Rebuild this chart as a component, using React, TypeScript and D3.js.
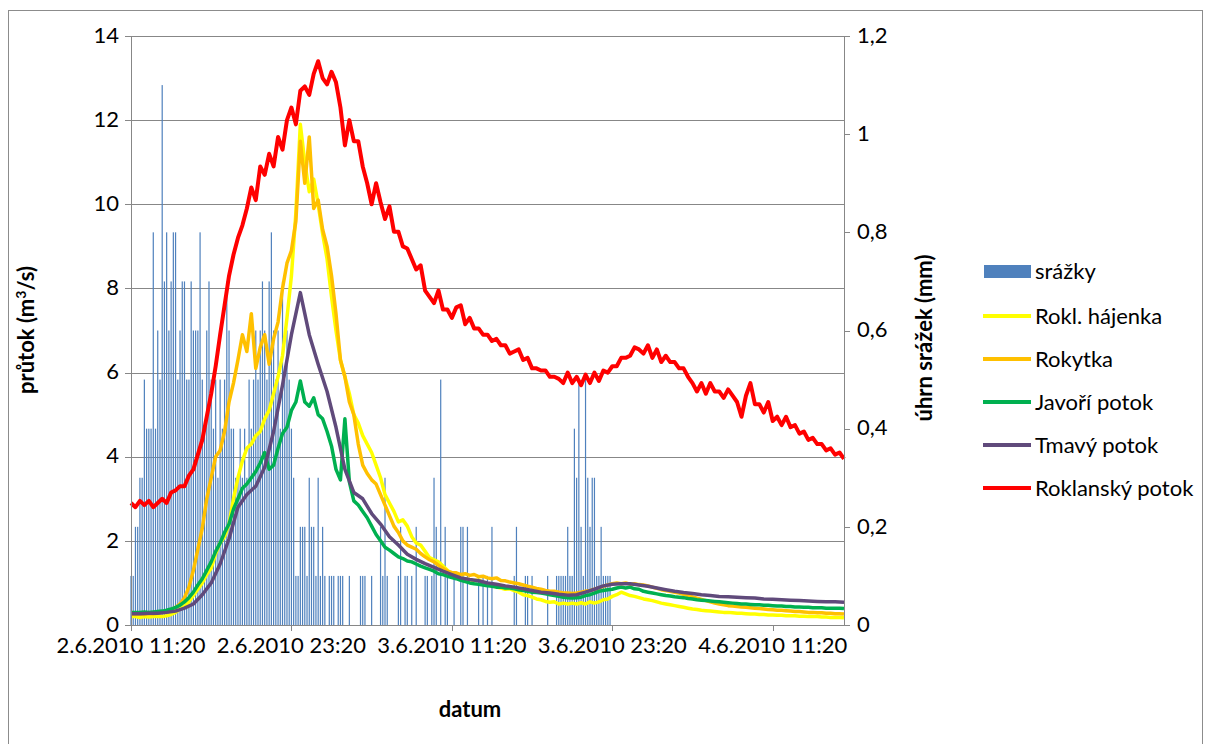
import React from "react";
import * as d3 from "d3";

// ---- DATA ----
// time axis labels (hours from 2.6.2010 11:20)
const tickHours = [0, 12, 24, 36, 48];
const tickLabels = ["2.6.2010 11:20", "2.6.2010 23:20", "3.6.2010 11:20", "3.6.2010 23:20", "4.6.2010 11:20"];
const leftTicks = [0, 2, 4, 6, 8, 10, 12, 14];
const rightTicks = [0, 0.2, 0.4, 0.6, 0.8, 1, 1.2];

// precipitation, 10-minute bins (mm)
const rain = [
  0.1, 0.1, 0.2, 0.2, 0.3, 0.3, 0.5, 0.4, 0.4, 0.4,
  0.8, 0.4, 0.6, 0.5, 1.1, 0.7, 0.8, 0.6, 0.7, 0.8,
  0.8, 0.5, 0.6, 0.7, 0.7, 0.5, 0.5, 0.7, 0.6, 0.6,
  0.6, 0.8, 0.5, 0.4, 0.6, 0.7, 0.5, 0.4, 0.5, 0.3,
  0.5, 0.4, 0.5, 0.7, 0.6, 0.4, 0.4, 0.3, 0.3, 0.4,
  0.3, 0.4, 0.3, 0.5, 0.4, 0.5, 0.6, 0.5, 0.6, 0.7,
  0.6, 0.5, 0.7, 0.8, 0.6, 0.5, 0.6, 0.4, 0.7, 0.5,
  0.6, 0.5, 0.4, 0.3, 0.1, 0.1, 0.2, 0.2, 0.2, 0.1,
  0.3, 0.2, 0.2, 0.1, 0.3, 0.1, 0.2, 0.1, 0, 0.1,
  0.1, 0.1, 0, 0.1, 0.1, 0.1, 0, 0, 0.1, 0,
  0, 0, 0, 0.1, 0.1, 0.1, 0, 0, 0.1, 0,
  0, 0, 0.2, 0.1, 0.3, 0.1, 0, 0, 0, 0,
  0.1, 0.2, 0, 0.1, 0.1, 0, 0.1, 0, 0.2, 0,
  0, 0, 0.1, 0.1, 0, 0.1, 0.3, 0.2, 0, 0.5,
  0, 0.2, 0.1, 0, 0, 0.1, 0, 0, 0.2, 0.2,
  0, 0.2, 0, 0, 0, 0, 0.1, 0, 0.1, 0,
  0.1, 0, 0.2, 0, 0, 0, 0, 0, 0, 0,
  0, 0, 0.1, 0.2, 0, 0, 0, 0.1, 0.1, 0,
  0.1, 0, 0, 0, 0, 0, 0, 0.1, 0, 0,
  0, 0.1, 0.1, 0.1, 0.1, 0.1, 0.2, 0.1, 0.1, 0.4,
  0.3, 0.5, 0.2, 0.1, 0.5, 0.3, 0.2, 0.3, 0.3, 0.1,
  0.1, 0.2, 0.1, 0.1, 0.1, 0.1,
];

// discharge, 20-minute steps (m3/s)
const roklHajenka = [
  0.2, 0.2, 0.18, 0.2, 0.19, 0.2, 0.21, 0.2, 0.22, 0.25,
  0.3, 0.38, 0.45, 0.55, 0.7, 0.85, 1.0, 1.2, 1.35, 1.7,
  1.95, 2.1, 2.4, 3.0, 3.5, 3.9, 4.2, 4.3, 4.5, 4.6,
  4.9, 5.1, 5.5, 5.9, 6.4, 7.3, 8.3, 9.8, 11.9, 11.0,
  10.3, 10.6, 10.0, 9.3, 8.7, 7.8, 7.0, 6.3, 5.9, 5.5,
  5.0, 4.8, 4.5, 4.3, 4.1, 3.8, 3.5, 3.1, 2.9, 2.7,
  2.45, 2.5, 2.35, 2.1, 1.95, 1.9, 1.75, 1.6, 1.55, 1.5,
  1.4, 1.3, 1.2, 1.18, 1.12, 1.1, 1.08, 1.05, 1.07, 1.02,
  0.98, 0.95, 0.9, 0.88, 0.85, 0.86, 0.82, 0.78, 0.72, 0.7,
  0.66, 0.62, 0.6, 0.56, 0.54, 0.55, 0.5, 0.52, 0.5, 0.52,
  0.5, 0.53, 0.5, 0.55, 0.52, 0.55, 0.6, 0.62, 0.68, 0.72,
  0.78, 0.74, 0.7, 0.68, 0.65, 0.62, 0.6, 0.58, 0.55, 0.52,
  0.5, 0.48, 0.46, 0.44, 0.42, 0.4, 0.38, 0.37, 0.35, 0.34,
  0.33, 0.32, 0.31, 0.3, 0.3, 0.29, 0.28, 0.28, 0.27, 0.26,
  0.26, 0.25, 0.25, 0.24, 0.24, 0.23, 0.23, 0.22, 0.22, 0.22,
  0.21, 0.21, 0.2, 0.2, 0.2, 0.19, 0.19, 0.18, 0.18, 0.18,
  0.17,
];

const rokytka = [
  0.26, 0.25, 0.26, 0.25, 0.27, 0.26, 0.28, 0.3, 0.32, 0.36,
  0.42, 0.5, 0.65, 0.9, 1.3, 1.8, 2.3, 3.0, 3.5, 4.0,
  4.15, 4.6, 5.3, 5.75, 6.3, 6.9, 6.5, 7.4, 6.1, 6.6,
  6.9, 6.2, 6.8, 7.2, 8.0, 8.6, 8.9, 9.6, 11.5, 10.5,
  11.6, 9.9, 10.1, 9.4, 9.0, 8.3, 7.4, 6.3, 5.9, 5.3,
  5.0, 4.3, 3.8, 3.6, 3.45, 3.35, 3.1, 2.85, 2.6, 2.35,
  2.2, 2.0, 1.9, 1.85, 1.8, 1.7, 1.62, 1.55, 1.5, 1.42,
  1.35, 1.28, 1.25, 1.24, 1.2, 1.22, 1.18, 1.2, 1.15, 1.16,
  1.12, 1.1, 1.12, 1.06, 1.05, 1.02, 1.0, 0.98, 0.95, 0.92,
  0.9, 0.87, 0.85, 0.82, 0.8, 0.8, 0.78, 0.76, 0.76, 0.75,
  0.76, 0.78, 0.8, 0.82, 0.85, 0.88, 0.92, 0.95, 0.98, 1.0,
  0.98, 1.0, 0.97, 0.98, 0.96, 0.95, 0.93, 0.9, 0.87, 0.84,
  0.82, 0.8, 0.78, 0.76, 0.73, 0.7, 0.67, 0.64, 0.61, 0.58,
  0.55, 0.52, 0.5, 0.48, 0.46, 0.45, 0.44, 0.43, 0.42, 0.41,
  0.4, 0.39, 0.38, 0.37, 0.36, 0.35, 0.35, 0.34, 0.33, 0.32,
  0.32, 0.31, 0.3, 0.3, 0.29, 0.29, 0.28, 0.28, 0.27, 0.27,
  0.26,
];

const javori = [
  0.3, 0.3, 0.3, 0.31, 0.3, 0.31, 0.32, 0.33, 0.35, 0.38,
  0.42, 0.47, 0.55, 0.65, 0.78, 0.95, 1.1, 1.3, 1.5, 1.75,
  1.95, 2.2, 2.4, 2.75, 3.0, 3.25, 3.35, 3.5, 3.65, 3.85,
  4.1, 3.7, 3.8, 4.2, 4.55, 4.7, 5.1, 5.3, 5.8, 5.3,
  5.2, 5.4, 5.0, 4.9, 4.6, 4.25, 3.7, 3.45, 4.9, 3.4,
  2.95, 2.85, 2.7, 2.55, 2.35, 2.15, 2.0, 1.85, 1.78, 1.7,
  1.62, 1.58, 1.52, 1.5, 1.45, 1.4, 1.36, 1.32, 1.28, 1.22,
  1.2, 1.16, 1.13, 1.1, 1.06, 1.03, 1.0, 0.98, 0.97, 0.95,
  0.93, 0.92, 0.9, 0.9, 0.88, 0.88, 0.86, 0.84, 0.82, 0.8,
  0.78, 0.77, 0.76, 0.74, 0.72, 0.7, 0.68, 0.66, 0.65, 0.64,
  0.65, 0.66, 0.7, 0.72, 0.76, 0.8, 0.82, 0.84, 0.85, 0.88,
  0.9, 0.88, 0.9, 0.86, 0.85, 0.8, 0.78, 0.76, 0.74, 0.72,
  0.7, 0.69, 0.67, 0.66, 0.65, 0.63, 0.62, 0.6, 0.59, 0.58,
  0.57, 0.56, 0.55, 0.54, 0.53, 0.52, 0.51, 0.5, 0.5, 0.49,
  0.48, 0.48, 0.47, 0.47, 0.46, 0.45, 0.45, 0.44, 0.44, 0.43,
  0.43, 0.42, 0.42, 0.41, 0.41, 0.41, 0.4, 0.4, 0.4, 0.4,
  0.39,
];

// 40-minute steps
const tmavy = [
  0.27, 0.27, 0.28, 0.28, 0.3, 0.33, 0.4, 0.5, 0.72, 1.0,
  1.45, 2.05, 2.8, 3.1, 3.3, 3.75, 4.6, 5.7, 6.9, 7.9,
  6.9, 6.2, 5.55, 4.7, 3.7, 3.15, 3.0, 2.65, 2.4, 2.1,
  1.9, 1.68, 1.56, 1.46, 1.37, 1.28, 1.2, 1.12, 1.08, 1.05,
  1.0, 0.97, 0.93, 0.9, 0.86, 0.82, 0.78, 0.76, 0.73, 0.71,
  0.72, 0.78, 0.85, 0.93, 0.97, 0.98, 0.98, 0.95, 0.92, 0.88,
  0.84, 0.8, 0.77, 0.75, 0.72, 0.7, 0.68, 0.67, 0.66, 0.65,
  0.64, 0.62, 0.61, 0.6, 0.59, 0.58, 0.57, 0.56, 0.55, 0.55,
  0.54,
];

const roklansky = [
  2.9, 2.8, 2.95, 2.85, 2.95, 2.8, 2.9, 3.0, 2.9, 3.15,
  3.2, 3.3, 3.3, 3.55, 3.7, 4.05, 4.4, 4.95, 5.5, 6.15,
  6.9, 7.6, 8.3, 8.8, 9.2, 9.5, 9.9, 10.4, 10.1, 10.9,
  10.7, 11.2, 10.9, 11.6, 11.3, 12.0, 12.3, 11.9, 12.7, 12.8,
  12.6, 13.1, 13.4, 13.0, 12.85, 13.15, 12.9, 12.3, 11.4, 12.0,
  11.5, 11.5, 10.9, 10.5, 10.0, 10.5, 10.05, 9.65, 9.95, 9.35,
  9.35, 9.0, 8.95, 8.7, 8.45, 8.55, 7.95, 7.8, 7.65, 7.95,
  7.5, 7.5, 7.3, 7.55, 7.6, 7.15, 7.3, 7.05, 7.05, 6.9,
  6.9, 6.75, 6.8, 6.65, 6.65, 6.45, 6.5, 6.55, 6.3, 6.35,
  6.1, 6.1, 6.05, 6.05, 5.9, 5.9, 5.85, 5.75, 6.0, 5.75,
  5.9, 5.7, 5.95, 5.75, 6.0, 5.8, 6.05, 6.0, 6.15, 6.15,
  6.35, 6.35, 6.4, 6.6, 6.55, 6.45, 6.65, 6.35, 6.55, 6.25,
  6.4, 6.25, 6.25, 6.1, 6.1, 5.9, 5.75, 5.55, 5.75, 5.5,
  5.75, 5.55, 5.55, 5.4, 5.6, 5.45, 5.3, 4.95, 5.45, 5.75,
  5.25, 5.25, 5.05, 5.3, 4.85, 4.95, 4.75, 4.95, 4.7, 4.75,
  4.55, 4.6, 4.4, 4.45, 4.3, 4.3, 4.15, 4.2, 4.05, 4.1,
  3.95,
];

const seriesNames = ["srážky", "Rokl. hájenka", "Rokytka", "Javoří potok", "Tmavý potok", "Roklanský potok"];
const seriesColors = ["#4F81BD", "#FFFF00", "#FFC000", "#00B050", "#604A7B", "#FF0000"];

const FONT = "Lato, 'Open Sans', sans-serif";

export default function App() {
  const left = 131, right = 844, top = 36, bottom = 625;
  const totalHours = 160 / 3;
  const x = d3.scaleLinear().domain([0, totalHours]).range([left, right]);
  const yL = d3.scaleLinear().domain([0, 14]).range([bottom, top]);
  const yR = d3.scaleLinear().domain([0, 1.2]).range([bottom, top]);

  const mkLine = (vals: number[], stepH: number) =>
    d3.line<number>().x((_, i) => x(i * stepH)).y((v) => yL(v))(vals) || "";

  const lines = [
    { vals: roklHajenka, step: 1 / 3, color: seriesColors[1], w: 3.5 },
    { vals: rokytka, step: 1 / 3, color: seriesColors[2], w: 3.5 },
    { vals: javori, step: 1 / 3, color: seriesColors[3], w: 3.5 },
    { vals: tmavy, step: 2 / 3, color: seriesColors[4], w: 3.5 },
    { vals: roklansky, step: 1 / 3, color: seriesColors[5], w: 4 },
  ];

  const grid = "#878787";
  const legendY = [271, 316, 359, 402, 445, 488];
  const tickFont = 22;

  return (
    <svg width={1206} height={744} style={{ position: "absolute", left: 0, top: 0, background: "#fff" }}>
      <rect x={0} y={0} width={1206} height={744} fill="#fff" />
      <rect x={8.5} y={10.5} width={1194} height={740} fill="none" stroke="#8c8c8c" strokeWidth={1} />

      {/* gridlines */}
      {leftTicks.map((t) => (
        <line key={"g" + t} x1={left} x2={right} y1={Math.round(yL(t)) + 0.5} y2={Math.round(yL(t)) + 0.5} stroke={grid} strokeWidth={1} />
      ))}

      {/* rain bars */}
      {rain.map((v, i) =>
        v > 0 ? (
          <rect key={"r" + i} x={x(i / 6) - 0.6} y={yR(v)} width={1.2} height={yR(0) - yR(v)} fill={seriesColors[0]} />
        ) : null
      )}

      {/* lines */}
      {lines.map((l, i) => (
        <path key={"l" + i} d={mkLine(l.vals, l.step)} fill="none" stroke={l.color} strokeWidth={l.w} strokeLinejoin="round" />
      ))}

      {/* axes */}
      <line x1={left + 0.5} x2={left + 0.5} y1={top} y2={bottom} stroke={grid} />
      <line x1={right + 0.5} x2={right + 0.5} y1={top} y2={bottom} stroke={grid} />
      <line x1={left} x2={right} y1={bottom + 0.5} y2={bottom + 0.5} stroke={grid} />
      {leftTicks.map((t) => (
        <g key={"lt" + t}>
          <line x1={left - 6} x2={left} y1={Math.round(yL(t)) + 0.5} y2={Math.round(yL(t)) + 0.5} stroke={grid} />
          <text x={119} y={yL(t) - 1} dy="0.35em" textAnchor="end" fontFamily={FONT} fontSize={tickFont} fill="#000">
            {t}
          </text>
        </g>
      ))}
      {rightTicks.map((t) => (
        <g key={"rt" + t}>
          <line x1={right} x2={right + 6} y1={Math.round(yR(t)) + 0.5} y2={Math.round(yR(t)) + 0.5} stroke={grid} />
          <text x={857} y={yR(t) - 1} dy="0.35em" textAnchor="start" fontFamily={FONT} fontSize={tickFont} fill="#000">
            {String(t).replace(".", ",")}
          </text>
        </g>
      ))}
      {tickHours.map((h, i) => (
        <g key={"xt" + h}>
          <line x1={Math.round(x(h)) + 0.5} x2={Math.round(x(h)) + 0.5} y1={bottom} y2={bottom + 6} stroke={grid} />
          <text x={x(h)} y={653} textAnchor="middle" fontFamily={FONT} fontSize={tickFont} fill="#000">
            {tickLabels[i]}
          </text>
        </g>
      ))}

      {/* axis titles */}
      <text x={470} y={717} textAnchor="middle" fontFamily={FONT} fontWeight="bold" fontSize={22}>
        datum
      </text>
      <text transform="translate(34,330) rotate(-90)" textAnchor="middle" fontFamily={FONT} fontWeight="bold" fontSize={22}>
        průtok (m<tspan dy={-8} fontSize={14}>3</tspan>
        <tspan dy={8}>/s)</tspan>
      </text>
      <text transform="translate(932,338) rotate(-90)" textAnchor="middle" fontFamily={FONT} fontWeight="bold" fontSize={22}>
        úhrn srážek (mm)
      </text>

      {/* legend */}
      {seriesNames.map((n, i) => (
        <g key={"lg" + i}>
          {i === 0 ? (
            <rect x={984} y={legendY[i] - 6} width={47} height={13} fill={seriesColors[0]} />
          ) : (
            <line x1={983} x2={1031} y1={legendY[i]} y2={legendY[i]} stroke={seriesColors[i]} strokeWidth={4} />
          )}
          <text x={1035} y={legendY[i]} dy="0.35em" fontFamily={FONT} fontSize={22} fill="#000">
            {n}
          </text>
        </g>
      ))}
    </svg>
  );
}
